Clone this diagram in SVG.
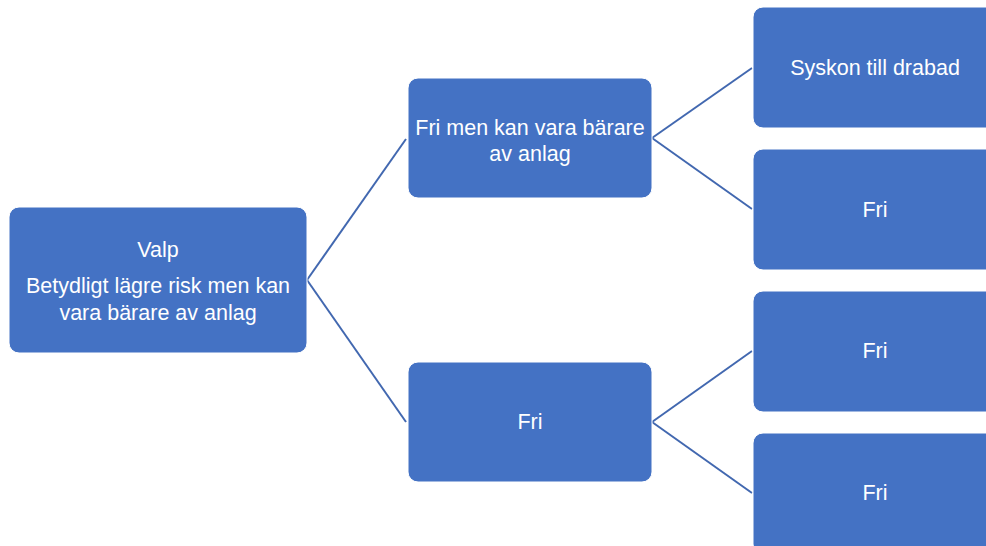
<svg xmlns="http://www.w3.org/2000/svg" width="986" height="546" viewBox="0 0 986 546">
<style>
.node rect{fill:#4472C4;stroke:#ffffff;stroke-width:1}
.node text{fill:#ffffff;font-family:"Liberation Sans",Arial,sans-serif;font-size:21.5px;text-anchor:middle}
.conn line{stroke:#4268B0;stroke-width:2;fill:none}
</style>
<rect width="986" height="546" fill="#ffffff"/>
<g id="connectors" class="conn">
<line x1="307" y1="280" x2="406" y2="139"/>
<line x1="307" y1="280" x2="406" y2="422"/>
<line x1="652" y1="138" x2="752" y2="68"/>
<line x1="652" y1="138" x2="752" y2="209"/>
<line x1="652" y1="422" x2="752" y2="351"/>
<line x1="652" y1="422" x2="752" y2="493"/>
</g>
<g id="root" class="node">
<rect x="9" y="207" width="298" height="146" rx="10"/>
<text x="158" y="257">Valp</text>
<text x="158" y="293">Betydligt lägre risk men kan</text>
<text x="158" y="320">vara bärare av anlag</text>
</g>
<g id="mid1" class="node">
<rect x="408" y="78" width="244" height="120" rx="10"/>
<text x="530" y="135">Fri men kan vara bärare</text>
<text x="530" y="161">av anlag</text>
</g>
<g id="mid2" class="node">
<rect x="408" y="362" width="244" height="120" rx="10"/>
<text x="530" y="429">Fri</text>
</g>
<g id="leaf1" class="node">
<rect x="753" y="7" width="244" height="121" rx="10"/>
<text x="875" y="75">Syskon till drabad</text>
</g>
<g id="leaf2" class="node">
<rect x="753" y="149" width="244" height="121" rx="10"/>
<text x="875" y="217">Fri</text>
</g>
<g id="leaf3" class="node">
<rect x="753" y="291" width="244" height="121" rx="10"/>
<text x="875" y="358">Fri</text>
</g>
<g id="leaf4" class="node">
<rect x="753" y="433" width="244" height="121" rx="10"/>
<text x="875" y="500">Fri</text>
</g>
</svg>
